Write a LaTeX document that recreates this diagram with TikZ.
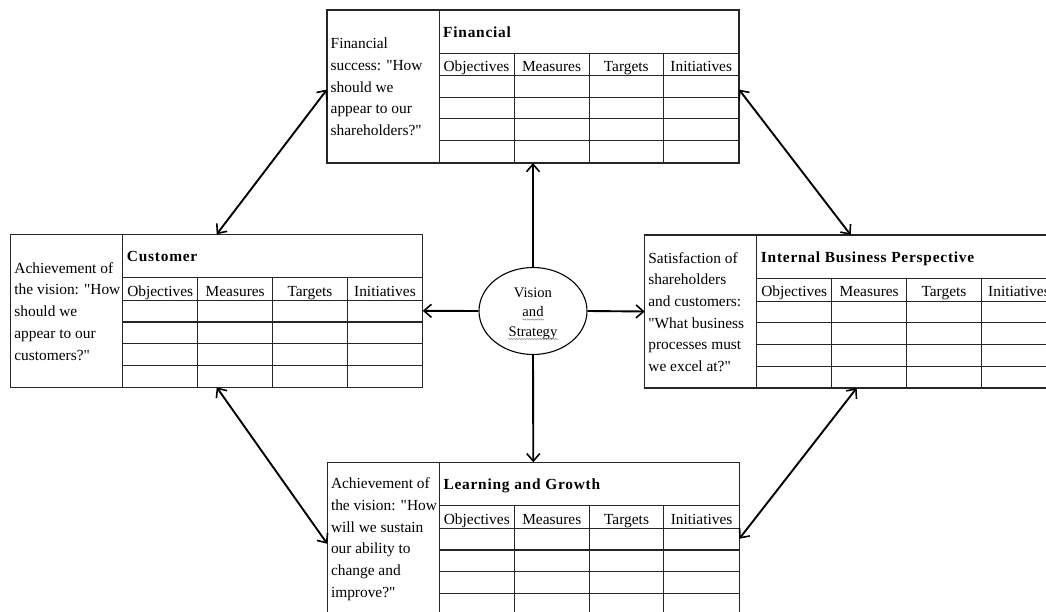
\documentclass[tikz,border=0pt]{standalone}
\usepackage{fontspec}
\setmainfont{Liberation Serif}
\newfontfamily\ttlfam{Liberation Serif}[LetterSpace=5]
\usetikzlibrary{arrows.meta,shapes.geometric,decorations.pathmorphing}
\newcommand\bodyfs{\fontsize{15.4}{21.7}\selectfont}
\newcommand\ellfs{\fontsize{14.6}{19.4}\selectfont}
\newcommand\q{\textquotedbl}
\tikzset{
  pbox/.style={draw=black!85,line width=1.1pt,minimum width=412pt,minimum height=153pt,
    anchor=north west,inner sep=0pt,outer sep=0pt},
  gridline/.style={draw=black!85,line width=1pt},
  ttl/.style={anchor=base west,inner sep=0pt,font=\bodyfs\ttlfam\bfseries},
  colhead/.style={anchor=base,inner sep=0pt,font=\bodyfs},
  lefttext/.style={anchor=west,align=left,inner sep=0pt,font=\bodyfs},
  link/.style={line width=1.9pt,draw=black},
  tip/.style={-{Straight Barb[length=7.5pt,width=13pt,line width=1.6pt]}},
  dtip/.style={{Straight Barb[length=7.5pt,width=13pt,line width=1.6pt]}-{Straight Barb[length=7.5pt,width=13pt,line width=1.6pt]}},
  squig/.style={draw=black!45,line width=0.5pt,decorate,decoration={snake,amplitude=0.7pt,segment length=2.6pt}}
}
\newcommand\perspbox[6]{%
  \node[pbox] (#1) at (#2,#3) {};
  \draw[gridline] ([shift={(112,0)}]#1.north west) -- ([shift={(112,0)}]#1.south west);
  \draw[gridline] ([shift={(112,43.5)}]#1.north west) -- ([shift={(0,43.5)}]#1.north east);
  \draw[gridline] ([shift={(112,66)}]#1.north west) -- ([shift={(0,66)}]#1.north east);
  \draw[gridline,line width=#6] ([shift={(112,87.5)}]#1.north west) -- ([shift={(0,87.5)}]#1.north east);
  \draw[gridline] ([shift={(112,109)}]#1.north west) -- ([shift={(0,109)}]#1.north east);
  \draw[gridline] ([shift={(112,131)}]#1.north west) -- ([shift={(0,131)}]#1.north east);
  \foreach \cx in {187,262,336.5}
    \draw[gridline] ([shift={(\cx,43.5)}]#1.north west) -- ([shift={(\cx,0)}]#1.south west);
  \node[ttl] (#1-title) at ([shift={(116,27.3)}]#1.north west) {#4};
  \node[colhead] (#1-obj) at ([shift={(149.5,61.7)}]#1.north west) {Objectives};
  \node[colhead] (#1-mea) at ([shift={(224.5,61.7)}]#1.north west) {Measures};
  \node[colhead] (#1-tar) at ([shift={(299.25,61.7)}]#1.north west) {Targets};
  \node[colhead] (#1-ini) at ([shift={(374.25,61.7)}]#1.north west) {Initiatives};
  \node[lefttext] (#1-text) at ([shift={(3.5,77)}]#1.north west) {#5};
}
\begin{document}
\begin{tikzpicture}[x=1pt,y=-1pt]
\useasboundingbox (0,0) rectangle (1046,612);
\fill[white] (0,0) rectangle (1046,612);
\clip (0,0) rectangle (1046,612);

\perspbox{fin}{327}{10}{Financial}{Financial\\success: \q How\\should we\\appear to our\\shareholders?\q}{1pt}
\perspbox{cus}{10.7}{234.3}{Customer}{Achievement of\\the vision: \q How\\should we\\appear to our\\customers?\q}{2.2pt}
\perspbox{int}{644.7}{235}{Internal Business Perspective}{Satisfaction of\\shareholders\\and customers:\\\q What business\\processes must\\we excel at?\q}{1pt}
\perspbox{lrn}{327.3}{462.3}{Learning and Growth}{Achievement of\\the vision: \q How\\will we sustain\\our ability to\\change and\\improve?\q}{2.2pt}

\node[draw=black,line width=1.1pt,ellipse,minimum width=108pt,minimum height=87pt,inner sep=0pt] (vs) at (533,311) {};
\node[align=center,font=\ellfs,inner sep=0pt] (vs-text) at ([yshift=-2.5pt]vs.center) {Vision\\and\\Strategy};
\draw[squig] ([shift={(-11,8.5)}]vs.center) -- ([shift={(11,8.5)}]vs.center);
\draw[squig] ([shift={(-25,28)}]vs.center) -- ([shift={(26,28)}]vs.center);

\draw[link,tip] (vs.north) -- (fin.south);
\draw[link,tip] (vs.south) -- (lrn.north);
\draw[link,tip] (vs.west) -- (cus.east);
\draw[link,tip] (vs.east) -- (int.west);

\draw[link,dtip] ([yshift=-3pt]fin.west) -- (cus.north);
\draw[link,dtip] ([yshift=-3pt]fin.east) -- (int.north);
\draw[link,dtip] (cus.south) -- ([yshift=-5pt]lrn.west);
\draw[link,dtip] (lrn.east) -- ([xshift=6pt]int.south);
\end{tikzpicture}
\end{document}
